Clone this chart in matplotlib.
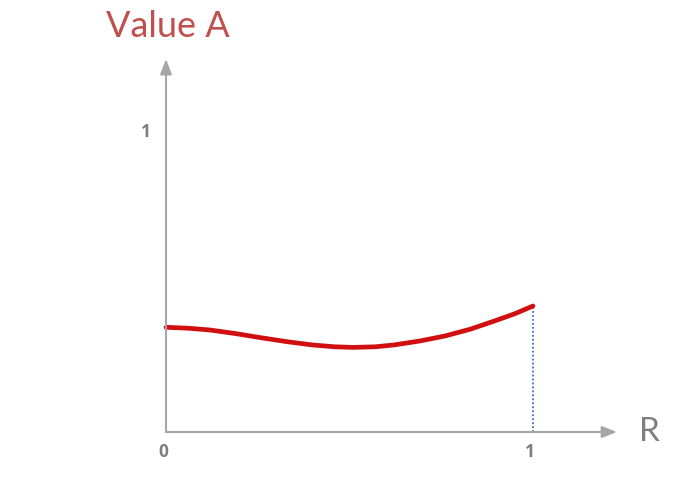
import numpy as np
import matplotlib.pyplot as plt

# curve
r_vals = [0.0, 0.06, 0.12, 0.19, 0.26, 0.33, 0.40, 0.46, 0.51, 0.57, 0.62, 0.69, 0.76, 0.83, 0.89, 0.95, 1.0]
a_vals = [0.349, 0.346, 0.340, 0.328, 0.314, 0.301, 0.290, 0.284, 0.282, 0.284, 0.290, 0.303, 0.320, 0.343, 0.368, 0.394, 0.420]

x_ticks = [0, 1]
y_ticks = [1]
x_label = "R"
y_label = "Value A"

axis_grey = "#A6A6A6"
text_grey = "#7F7F7F"

fig = plt.figure(figsize=(7.0, 4.98), dpi=100)
ax = fig.add_axes([0, 0, 1, 1])
ax.set_xlim(-0.4523, 1.455)
ax.set_ylim(-0.22, 1.44)
ax.axis("off")

# axes with arrow heads
arrow = dict(arrowstyle="-|>,head_length=0.9,head_width=0.35", color=axis_grey, lw=1.5,
             shrinkA=0, shrinkB=0)
ax.annotate("", xy=(1.229, 0), xytext=(0, 0), arrowprops=arrow)
ax.annotate("", xy=(0, 1.243), xytext=(0, 0), arrowprops=arrow)

# dotted drop line at R=1
ax.plot([r_vals[-1], r_vals[-1]], [0, a_vals[-1]], ls=(0, (1, 1.2)), color="#3F6FC0", lw=1.3)

# the curve
ax.plot(r_vals, a_vals, color="#D01010", lw=3.4, solid_capstyle="round", solid_joinstyle="round")

# tick labels
for t in x_ticks:
    ax.text(t - 0.008, -0.068, str(t), ha="center", va="center", fontsize=12.5,
            fontweight="bold", color=text_grey, family="Open Sans")
for t in y_ticks:
    ax.text(-0.055, t, str(t), ha="center", va="center", fontsize=12.5,
            fontweight="bold", color=text_grey, family="Open Sans")

ax.text(1.317, 0.0, x_label, ha="center", va="center", fontsize=24, color=text_grey, family="Lato")
ax.text(0.005, 1.35, y_label, ha="center", va="center", fontsize=26, color="#C0504D", family="Lato")

fig.savefig("out.png", dpi=100)
